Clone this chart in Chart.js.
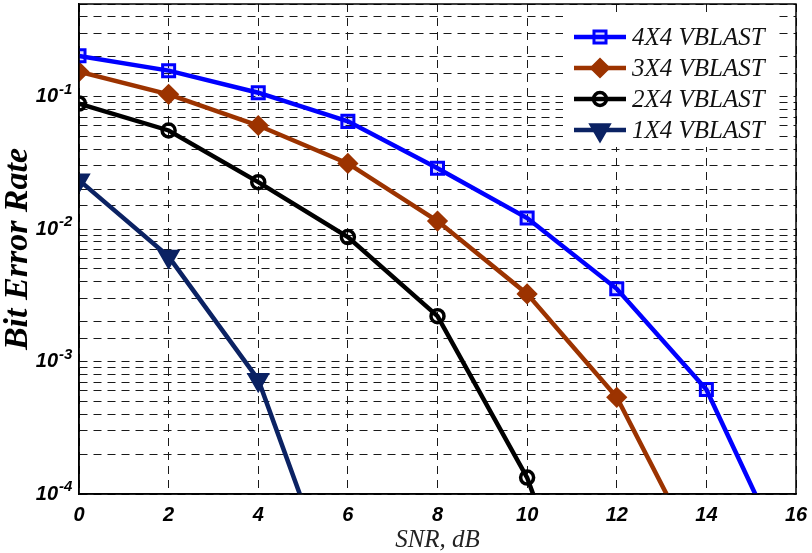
<!DOCTYPE html>
<html>
<head>
<meta charset="utf-8">
<script src="https://cdn.jsdelivr.net/npm/chart.js@4.4.1/dist/chart.umd.min.js"></script>
<style>
  body { margin: 0; background: #fff; }
  #chart { display: block; }
</style>
</head>
<body>
<canvas id="chart" width="812" height="553"></canvas>
<script>
const snr = [0, 2, 4, 6, 8, 10, 12, 14, 16];
const labels = ["4X4 VBLAST", "3X4 VBLAST", "2X4 VBLAST", "1X4 VBLAST"];
const ber4x4 = [0.203, 0.157, 0.107, 0.065, 0.0288, 0.0121, 0.00354, 0.000615, 0.000022];
const ber3x4 = [0.154, 0.104, 0.0605, 0.0313, 0.0115, 0.00324, 0.000537, 0.000026];
const ber2x4 = [0.0886, 0.0555, 0.0226, 0.0087, 0.0022, 0.000133, 0.0000018];
const ber1x4 = [0.0234, 0.0062, 0.00073, 0.00001];
const xTicks = [0, 2, 4, 6, 8, 10, 12, 14, 16];

const colors = ["#0000ff", "#9c3300", "#000000", "#0b2263"];
const tickFont = "'Liberation Sans', Arial, sans-serif";
const serif = "'Liberation Serif', 'Times New Roman', serif";

function toPoints(values) {
    return values.map((v, i) => ({ x: snr[i], y: v }));
}

function decadeOf(v) {
    const e = Math.log10(v);
    const r = Math.round(e);
    return Math.abs(e - r) < 1e-6 ? r : null;
}

const ctx = document.getElementById("chart");

const series = [
    { data: ber4x4, style: "rect", radius: 8.5, fill: "rgba(0,0,255,0.15)", rot: 0, bw: 3 },
    { data: ber3x4, style: "rectRot", radius: 8.5, fill: colors[1], rot: 0, bw: 3 },
    { data: ber2x4, style: "circle", radius: 6.5, fill: "rgba(255,255,255,0)", rot: 0, bw: 3.5 },
    { data: ber1x4, style: "triangle", radius: 11.5, fill: colors[3], rot: 180, bw: 2 },
];

const datasets = series.map((s, i) => ({
    label: labels[i],
    data: toPoints(s.data),
    borderColor: colors[i],
    backgroundColor: s.fill,
    pointBackgroundColor: s.fill,
    pointBorderColor: colors[i],
    pointStyle: s.style,
    pointRadius: s.radius,
    pointRotation: s.rot,
    pointBorderWidth: s.bw,
    borderWidth: 4.5,
    tension: 0,
}));

// legend drawn inside the plot, MATLAB style
const insideLegend = {
    id: "insideLegend",
    afterDraw(chart) {
        const c = chart.ctx;
        const area = chart.chartArea;
        const boxRight = area.right - 20;
        const boxLeft = boxRight - 213;
        const top = area.top + 8;
        c.save();
        c.fillStyle = "#fff";
        c.fillRect(boxLeft, top, 213, 135);
        chart.data.datasets.forEach((ds, i) => {
            const y = top + 25 + i * 31;
            const x0 = boxLeft + 11;
            const x1 = x0 + 52;
            c.strokeStyle = ds.borderColor;
            c.lineWidth = ds.borderWidth;
            c.setLineDash([]);
            c.beginPath();
            c.moveTo(x0, y);
            c.lineTo(x1, y);
            c.stroke();
            c.fillStyle = ds.pointBackgroundColor;
            c.strokeStyle = ds.pointBorderColor;
            c.lineWidth = ds.pointBorderWidth;
            Chart.helpers.drawPoint(c, {
                pointStyle: ds.pointStyle,
                rotation: ds.pointRotation,
                radius: ds.pointRadius,
                borderWidth: ds.pointBorderWidth,
            }, (x0 + x1) / 2, y);
            c.fillStyle = "#111";
            c.font = "italic 25px " + serif;
            c.textBaseline = "middle";
            c.textAlign = "left";
            c.fillText(ds.label, x1 + 6, y + 1);
        });
        c.restore();
    },
};

// box around the plot and the exponents of the decade labels
const plotBox = {
    id: "plotBox",
    afterDatasetsDraw(chart) {
        const c = chart.ctx;
        const a = chart.chartArea;
        c.save();
        c.strokeStyle = "#000";
        c.lineWidth = 1.5;
        c.setLineDash([]);
        c.strokeRect(a.left, a.top, a.right - a.left, a.bottom - a.top);
        c.restore();
    },
    afterDraw(chart) {
        const y = chart.scales.y;
        const c = chart.ctx;
        c.save();
        c.fillStyle = "#000";
        c.font = "italic bold 15px " + tickFont;
        c.textAlign = "left";
        c.textBaseline = "alphabetic";
        y.ticks.forEach((t) => {
            const d = decadeOf(t.value);
            if (d === null) return;
            const py = y.getPixelForValue(t.value);
            c.fillText(String(d), y.right - y.options.ticks.padding + 1, py - 3);
        });
        c.restore();
    },
};

new Chart(ctx, {
    type: "line",
    data: { datasets: datasets },
    plugins: [plotBox, insideLegend],
    options: {
        responsive: false,
        animation: false,
        devicePixelRatio: 1,
        layout: { autoPadding: false, padding: { top: 4, right: 16, left: 0, bottom: 0 } },
        plugins: {
            legend: { display: false },
            tooltip: { enabled: false },
        },
        scales: {
            x: {
                type: "linear",
                min: 0,
                max: 16,
                afterFit: (scale) => {
                    scale.height = 59;
                    scale.paddingLeft = 0;
                    scale.paddingRight = 0;
                },
                afterBuildTicks: (scale) => {
                    scale.ticks = xTicks.map((v) => ({ value: v }));
                },
                ticks: {
                    padding: 9,
                    color: "#000",
                    font: { family: tickFont, size: 20, weight: "bold", style: "italic" },
                    callback: (v) => v,
                },
                grid: { color: "#1a1a1a", lineWidth: 1, drawTicks: false },
                border: { color: "#000", width: 1.5, dash: [8, 6] },
                title: {
                    display: true,
                    text: "SNR, dB",
                    color: "#222",
                    font: { family: serif, size: 25, style: "italic", lineHeight: 1 },
                    padding: { top: 0, bottom: 0 },
                },
            },
            y: {
                type: "logarithmic",
                min: 0.0001,
                max: 0.5,
                afterFit: (scale) => {
                    scale.width = 79;
                    scale.paddingTop = 0;
                    scale.paddingBottom = 0;
                },
                ticks: {
                    autoSkip: false,
                    padding: 21,
                    color: "#000",
                    font: { family: tickFont, size: 20, weight: "bold", style: "italic" },
                    callback: (v) => (decadeOf(v) !== null ? "10" : ""),
                },
                grid: { color: "#1a1a1a", lineWidth: 1, drawTicks: false },
                border: { color: "#000", width: 1.5, dash: [8, 6] },
                title: {
                    display: true,
                    text: "Bit Error Rate",
                    color: "#000",
                    font: { family: serif, size: 34, weight: "bold", style: "italic", lineHeight: 1 },
                    padding: { top: 1, bottom: 0 },
                },
            },
        },
    },
});
</script>
</body>
</html>
